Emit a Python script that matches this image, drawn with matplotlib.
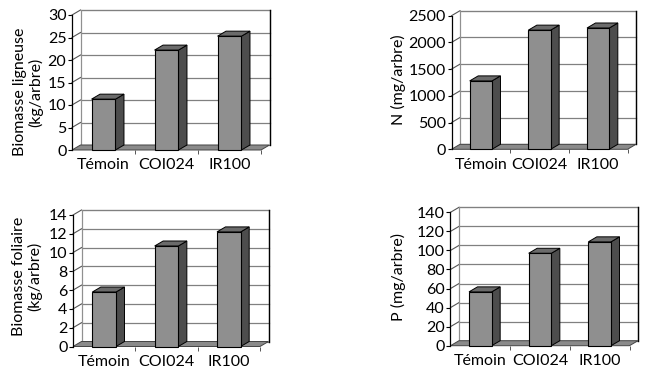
import numpy as np
import matplotlib
matplotlib.use('Agg')
import matplotlib.pyplot as plt
from matplotlib.patches import Polygon, Rectangle

plt.rcParams['font.family'] = ['Lato', 'DejaVu Sans']

#---    Data
categories = ['Témoin', 'COI024', 'IR100']
bio_ligneuse = [11.3, 22.2, 25.3]      # kg/arbre
n_arbre = [1280, 2230, 2270]           # mg/arbre
bio_foliaire = [5.8, 10.7, 12.2]       # kg/arbre
p_arbre = [56.5, 97, 109]              # mg/arbre

W, H = 652, 379
fig = plt.figure(figsize=(W / 100, H / 100), dpi=100)

front_col = '#8f8f8f'
top_col = '#6b6b6b'
side_col = '#4d4d4d'
floor_col = '#8a8a8a'
grid_col = '#808080'


def panel(left_px, bottom_px, width_px, top_px, ymax, step, values, ylab, ylab_x, ylab_y):
    height_px = bottom_px - top_px
    ax = fig.add_axes([left_px / W, 1 - bottom_px / H, width_px / W, height_px / H])
    n = len(values)
    ax.set_xlim(0, n)
    ax.set_ylim(0, ymax)
    # depth offset (pixels -> data)
    ddx = 8.5 / (width_px / n)
    ddy = 5.0 / (height_px / ymax)
    ticks = np.arange(0, ymax + step / 2, step)

    # back wall
    ax.add_patch(Rectangle((ddx, ddy), n, ymax, facecolor='white', edgecolor=grid_col,
                           lw=0.8, clip_on=False, zorder=1))
    for t in ticks[1:]:
        ax.plot([ddx, n + ddx], [t + ddy, t + ddy], color=grid_col, lw=0.9, clip_on=False, zorder=2)
        ax.plot([0, ddx], [t, t + ddy], color='#555555', lw=0.8, clip_on=False, zorder=2)
    ax.plot([ddx, ddx], [ddy, ymax + ddy], color='#909090', lw=0.8, clip_on=False, zorder=2)
    ax.plot([n + ddx, n + ddx], [ddy, ymax + ddy], color='black', lw=1.0, clip_on=False, zorder=2)

    # floor
    ax.add_patch(Polygon([(0, 0), (n, 0), (n + ddx, ddy), (ddx, ddy)], closed=True,
                         facecolor=floor_col, edgecolor='#444444', lw=0.7, clip_on=False, zorder=3))

    # bars
    bw = 0.38
    for i, v in enumerate(values):
        xc = i + 0.5
        x0, x1 = xc - bw / 2, xc + bw / 2
        ax.add_patch(Polygon([(x1, 0), (x1 + ddx, ddy), (x1 + ddx, v + ddy), (x1, v)], closed=True,
                             facecolor=side_col, edgecolor='black', lw=0.7, clip_on=False, zorder=4))
        ax.add_patch(Polygon([(x0, v), (x1, v), (x1 + ddx, v + ddy), (x0 + ddx, v + ddy)], closed=True,
                             facecolor=top_col, edgecolor='black', lw=0.7, clip_on=False, zorder=4))
        ax.add_patch(Rectangle((x0, 0), bw, v, facecolor=front_col, edgecolor='black',
                               lw=0.8, clip_on=False, zorder=5))

    ax.set_facecolor('none')
    for s in ['top', 'right', 'bottom']:
        ax.spines[s].set_visible(False)
    ax.spines['left'].set_linewidth(0.9)
    ax.spines['left'].set_zorder(6)
    ax.set_yticks(ticks)
    ax.set_yticklabels([str(int(t)) for t in ticks], fontsize=11.5)
    ax.tick_params(axis='y', length=3, width=0.8, pad=1)
    ax.set_xticks(np.arange(n) + 0.5)
    ax.set_xticklabels(categories, fontsize=11.5)
    ax.set_xticks(np.arange(1, n + 1), minor=True)
    ax.tick_params(axis='x', which='major', length=0, pad=6)
    ax.tick_params(axis='x', which='minor', length=3, width=0.7, color='#555555')

    fig.text(ylab_x / W, 1 - ylab_y / H, ylab, rotation=90, ha='center', va='center',
             multialignment='center', fontsize=11.5, linespacing=1.15)


panel(72, 150, 189, 15, 30, 5, bio_ligneuse, 'Biomasse ligneuse\n(kg/arbre)', 28, 92)
panel(451.5, 149.3, 176, 15.7, 2500, 500, n_arbre, 'N (mg/arbre)', 398, 80)
panel(73, 346.5, 187, 215, 14, 2, bio_foliaire, 'Biomasse foliaire\n(kg/arbre)', 27, 276)
panel(450.5, 345.7, 179, 212.3, 140, 20, p_arbre, 'P (mg/arbre)', 398, 277)

fig.savefig('out.png', dpi=100)
